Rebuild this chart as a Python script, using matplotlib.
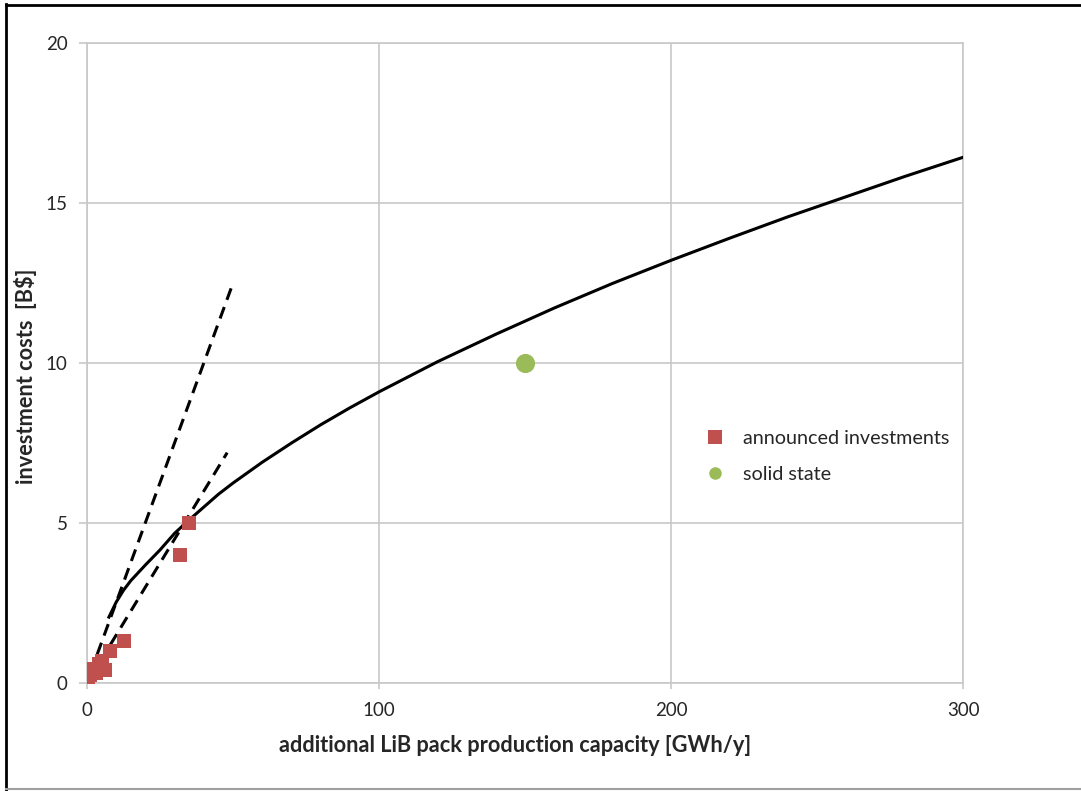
import matplotlib.pyplot as plt
from matplotlib.lines import Line2D

plt.rcParams['font.family'] = ['Lato', 'DejaVu Sans']

# announced investments (capacity GWh/y, cost B$)
announced_cap = [0.5, 1, 2, 3, 4, 5, 6, 8, 12.5, 32, 35]
announced_cost = [0.1, 0.25, 0.45, 0.3, 0.6, 0.7, 0.4, 1.0, 1.3, 4.0, 5.0]

# solid state estimate
solid_cap = [150]
solid_cost = [10]

# scaling curve
curve_cap = [7.5, 10, 12.5, 15, 20, 25, 30, 35, 40, 45, 50, 60, 70, 80, 90,
             100, 120, 140, 160, 180, 200, 220, 240, 260, 280, 300]
curve_cost = [2.06, 2.53, 2.9, 3.2, 3.69, 4.16, 4.68, 5.1, 5.5, 5.9, 6.25,
              6.9, 7.5, 8.07, 8.6, 9.1, 10.04, 10.9, 11.72, 12.49, 13.21,
              13.9, 14.57, 15.2, 15.83, 16.43]

# linear cost bounds
upper_cap = [3.5, 50]
upper_cost = [0.9, 12.5]
lower_cap = [8, 48]
lower_cost = [1.2, 7.2]

xticks = [0, 100, 200, 300]
yticks = [0, 5, 10, 15, 20]

red = '#C0504D'
green = '#9BBB59'
grid_col = '#C8C8C8'
txt_col = '#262626'

fig = plt.figure(figsize=(10.81, 7.91), dpi=100)
ax = fig.add_axes([0.0805, 0.1365, 0.8105, 0.8091])

ax.plot(curve_cap, curve_cost, color='black', lw=2.2, zorder=3,
        solid_joinstyle='round')
ax.plot(upper_cap, upper_cost, color='black', lw=2.2, ls=(0, (4, 2.5)), zorder=3)
ax.plot(lower_cap, lower_cost, color='black', lw=2.2, ls=(0, (4, 2.5)), zorder=3)

ax.scatter(announced_cap, announced_cost, marker='s', s=115, color=red,
           linewidths=0, zorder=4)
ax.scatter(solid_cap, solid_cost, marker='o', s=190, color=green,
           linewidths=0, zorder=4)

ax.set_xlim(0, 300)
ax.set_ylim(0, 20)
ax.set_xticks(xticks)
ax.set_yticks(yticks)
ax.grid(True, color=grid_col, lw=1.2)
ax.set_axisbelow(True)
for sp in ax.spines.values():
    sp.set_color(grid_col)
    sp.set_linewidth(1.2)
ax.tick_params(axis='both', colors=grid_col, labelcolor=txt_col,
               labelsize=13.5, length=6, width=1.2)
ax.tick_params(axis='x', pad=10, length=4)
ax.tick_params(axis='y', pad=8)

ax.set_xlabel('additional LiB pack production capacity [GWh/y]',
              fontsize=15.7, fontweight='bold', color=txt_col, va='top')
ax.set_ylabel('investment costs  [B$]', fontsize=15.7, fontweight='bold',
              color=txt_col)
ax.xaxis.set_label_coords(0.489, -0.081)
ax.yaxis.set_label_coords(-0.057, 0.48)

handles = [
    Line2D([], [], ls='none', marker='s', markersize=9.5, color=red,
           markeredgewidth=0, label='announced investments'),
    Line2D([], [], ls='none', marker='o', markersize=9, color=green,
           markeredgewidth=0, label='solid state'),
]
ax.legend(handles=handles, loc='center left', bbox_to_anchor=(0.674, 0.354),
          frameon=False, fontsize=14.2, handletextpad=0.4, labelspacing=0.98,
          labelcolor=txt_col)

# outer frame around the chart
fig.add_artist(Line2D([0.006, 0.006], [0.0, 0.995], color='black', lw=2,
                      transform=fig.transFigure))
fig.add_artist(Line2D([0.006, 1.0], [0.994, 0.994], color='black', lw=2,
                      transform=fig.transFigure))
fig.add_artist(Line2D([0.006, 1.0], [0.002, 0.002], color='#A0A0A0', lw=1.5,
                      transform=fig.transFigure))

fig.savefig('out.png', dpi=100)
